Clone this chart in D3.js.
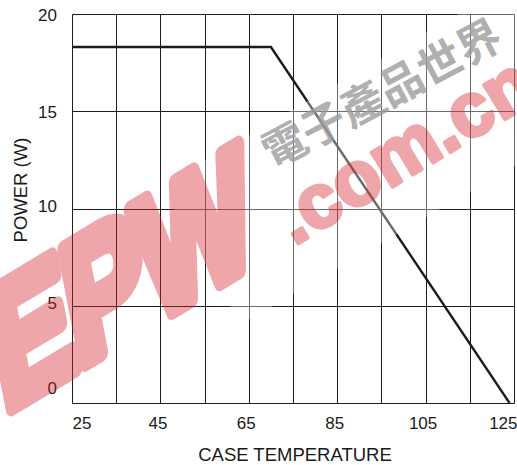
<!DOCTYPE html>
<html>
  <head>
    <title></title>
    <script src="https://d3js.org/d3.v7.min.js"></script>
    <style type="text/css">
      body {
        margin: 0;
        background: #ffffff;
      }

      svg text {
        font-family: 'Liberation Sans', Arial, sans-serif;
        fill: #1a1a1a;
      }

      .grid line {
        stroke: #1e1e1e;
        stroke-width: 1;
      }

      .curve {
        fill: none;
        stroke: #1c1c1c;
        stroke-width: 2.4;
      }

      .mark-red text {
        fill: #d8232c;
        stroke: #d8232c;
        stroke-linejoin: round;
        font-weight: bold;
      }
    </style>
  </head>

  <body>
    <div class="chart"></div>
    <script type="text/javascript">
      // derating curve, case temperature (C) vs power (W)
      var temps = [25, 70, 124];
      var power = [18.3, 18.3, 0];

      var xGrid = [25, 35, 45, 55, 65, 75, 85, 95, 105, 115, 125];
      var xTickLabels = [25, 45, 65, 85, 105, 125];
      var yGrid = [0, 5, 10, 15, 20];
      var yTickLabels = [0, 5, 10, 15, 20];

      var xTitle = 'CASE TEMPERATURE';
      var yTitle = 'POWER (W)';

      var width = 517;
      var height = 465;
      var margin = {top: 14, right: 3, bottom: 62, left: 72};

      var svg = d3.select('.chart').append('svg')
                  .attr('width', width)
                  .attr('height', height);

      var x = d3.scaleLinear()
                .domain([25, 125])
                .range([margin.left, width - margin.right]);

      var y = d3.scaleLinear()
                .domain([0, 20])
                .range([height - margin.bottom, margin.top]);

      // snap 1px lines onto the pixel grid
      function px (v) {
        return Math.round(v) + 0.5;
      }

      // grid
      var grid = svg.append('g').attr('class', 'grid');

      grid.selectAll('.vline')
        .data(xGrid)
        .enter()
        .append('line')
          .attr('class', 'vline')
          .attr('x1', function(d){return px(x(d))})
          .attr('x2', function(d){return px(x(d))})
          .attr('y1', px(y(0)))
          .attr('y2', px(y(20)));

      grid.selectAll('.hline')
        .data(yGrid)
        .enter()
        .append('line')
          .attr('class', 'hline')
          .attr('x1', px(x(25)))
          .attr('x2', px(x(125)))
          .attr('y1', function(d){return px(y(d))})
          .attr('y2', function(d){return px(y(d))});

      // curve
      var line = d3.line()
                   .x(function(d){return x(d[0])})
                   .y(function(d){return y(d[1])});

      svg.append('path')
        .attr('class', 'curve')
        .attr('d', line(d3.zip(temps, power)));

      // axes, labels only
      var xAxis = svg.append('g')
        .attr('transform', 'translate(0,' + (y(0) + 10) + ')')
        .call(d3.axisBottom(x).tickValues(xTickLabels).tickSize(0).tickPadding(4));

      xAxis.select('.domain').remove();
      xAxis.selectAll('text')
        .style('font-size', '17px')
        .attr('dx', function(d){return d == 25 ? 0 : (d == 125 ? 3 : -3)})
        .attr('text-anchor', function(d){return d == 25 ? 'start' : (d == 125 ? 'end' : 'middle')});

      var yAxis = svg.append('g')
        .attr('transform', 'translate(' + (x(25) - 15) + ',0)')
        .call(d3.axisLeft(y).tickValues(yTickLabels).tickSize(0).tickPadding(0));

      yAxis.select('.domain').remove();
      yAxis.selectAll('text')
        .style('font-size', '17px')
        .attr('dy', function(d){return d == 0 ? '-0.55em' : (d >= 15 ? '0.36em' : '0.15em')});

      svg.append('text')
        .attr('x', (x(25) + x(125)) / 2 + 2)
        .attr('y', 461)
        .attr('text-anchor', 'middle')
        .style('font-size', '18.5px')
        .text(xTitle);

      svg.append('text')
        .attr('transform', 'translate(27,190) rotate(-90)')
        .attr('text-anchor', 'middle')
        .style('font-size', '18.5px')
        .text(yTitle);

      // watermark
      var mark = svg.append('g').style('pointer-events', 'none');

      mark.append('rect')
        .attr('transform', 'translate(400,140) rotate(-30)')
        .attr('x', -230)
        .attr('y', -80)
        .attr('width', 460)
        .attr('height', 160)
        .style('fill', '#ffffff')
        .style('fill-opacity', 0.35);

      mark.append('g')
        .attr('class', 'mark-red')
        .style('opacity', 0.4)
        .append('text')
          .attr('transform', 'translate(4,412) rotate(-31) skewX(-20) scale(0.85,1)')
          .attr('text-anchor', 'start')
          .style('font-size', '158px')
          .style('stroke-width', 16)
          .style('letter-spacing', '-4px')
          .text('EPW');

      mark.append('g')
        .attr('class', 'mark-red')
        .style('opacity', 0.4)
        .append('text')
          .attr('transform', 'translate(294,246) rotate(-31)')
          .attr('text-anchor', 'start')
          .style('font-size', '76px')
          .style('stroke-width', 4)
          .text('.com.cn');

      mark.append('text')
        .attr('transform', 'translate(382,94) rotate(-28)')
        .attr('text-anchor', 'middle')
        .attr('dy', '0.35em')
        .style('font-size', '44px')
        .style('font-weight', 'bold')
        .style('font-family', 'Noto Sans CJK TC, sans-serif')
        .style('fill', '#9a9a9a')
        .style('fill-opacity', 0.8)
        .text('電子產品世界');
    </script>
  </body>
</html>
